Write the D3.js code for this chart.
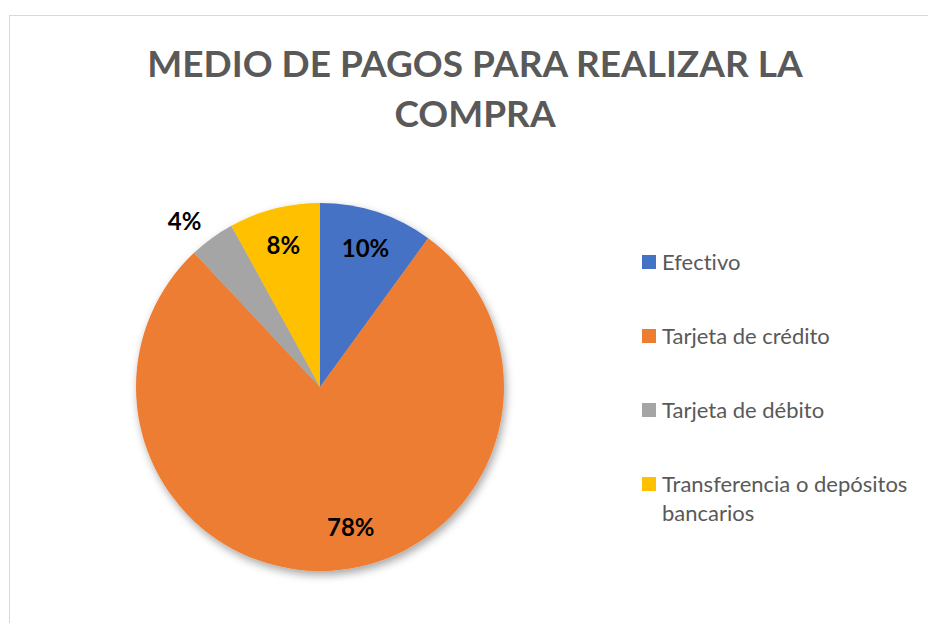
<!DOCTYPE html>
<html>
<head>
<meta charset="utf-8">
<script src="https://cdn.jsdelivr.net/npm/d3@7"></script>
<style>
  body { margin: 0; background: #fff; }
  svg { display: block; }
  text { font-variant-ligatures: none; font-feature-settings: "liga" 0; }
</style>
</head>
<body>
<div id="chart"></div>
<script>
// Data
const categories = ['Efectivo', 'Tarjeta de crédito', 'Tarjeta de débito', 'Transferencia o depósitos bancarios'];
const values = [10, 78, 4, 8];
const colors = ['#4472c4', '#ed7d31', '#a5a5a5', '#ffc000'];
const titleLines = ['MEDIO DE PAGOS PARA REALIZAR LA', 'COMPRA'];
const legendLines = [['Efectivo'], ['Tarjeta de crédito'], ['Tarjeta de débito'], ['Transferencia o depósitos', 'bancarios']];

const width = 928, height = 623;
const cx = 320, cy = 387, radius = 184;

const svg = d3.select('#chart').append('svg')
    .attr('width', width)
    .attr('height', height);

// drop shadow like the office chart
const defs = svg.append('defs');
const shadow = defs.append('filter')
    .attr('id', 'shadow')
    .attr('x', '-20%').attr('y', '-20%')
    .attr('width', '140%').attr('height', '140%');
shadow.append('feDropShadow')
    .attr('dx', 2).attr('dy', 4)
    .attr('stdDeviation', 4)
    .attr('flood-color', '#000')
    .attr('flood-opacity', 0.35);

// chart area border (runs off the right and bottom)
svg.append('rect')
    .attr('x', 9.5).attr('y', 15.5)
    .attr('width', 1000).attr('height', 800)
    .attr('fill', '#fff')
    .attr('stroke', '#d9d9d9')
    .attr('stroke-width', 1);

// title
svg.append('text')
    .attr('x', 475)
    .attr('font-family', 'Lato, sans-serif')
    .attr('font-weight', 'bold')
    .attr('font-size', 37)
    .attr('fill', '#595959')
    .attr('text-anchor', 'middle')
    .selectAll('tspan')
    .data(titleLines)
    .enter().append('tspan')
    .attr('x', 475)
    .attr('y', (d, i) => 77 + i * 50)
    .text(d => d);

// pie
const pie = d3.pie().sort(null).value(d => d);
const arcs = pie(values);
const arc = d3.arc().innerRadius(0).outerRadius(radius);

const g = svg.append('g')
    .attr('transform', `translate(${cx},${cy})`);

g.append('g')
    .attr('filter', 'url(#shadow)')
    .selectAll('path')
    .data(arcs)
    .enter().append('path')
    .attr('d', arc)
    .attr('fill', (d, i) => colors[i]);

// label radius factor per slice (small slice sits outside), and a nudge for the big one
const labelRadius = [0.8, 0.76, 1.16, 0.8];
const labelShift = [[0, 0], [22, 0], [-10, 6], [0, 0]];

g.selectAll('.label')
    .data(arcs)
    .enter().append('text')
    .attr('class', 'label')
    .attr('transform', (d, i) => {
        const a = (d.startAngle + d.endAngle) / 2;
        const r = radius * labelRadius[i];
        const x = r * Math.sin(a) + labelShift[i][0];
        const y = -r * Math.cos(a) + labelShift[i][1];
        return `translate(${x},${y})`;
    })
    .attr('text-anchor', 'middle')
    .attr('dominant-baseline', 'central')
    .attr('font-family', 'Lato, sans-serif')
    .attr('font-weight', 'bold')
    .attr('font-size', 24)
    .attr('fill', '#000')
    .text(d => Math.round(d.data) + '%');

// legend
const legend = svg.append('g')
    .attr('transform', 'translate(642,262)');

const item = legend.selectAll('.item')
    .data(categories)
    .enter().append('g')
    .attr('class', 'item')
    .attr('transform', (d, i) => `translate(0,${i * 74})`);

item.append('rect')
    .attr('x', 0).attr('y', -7)
    .attr('width', 14).attr('height', 14)
    .attr('fill', (d, i) => colors[i]);

item.append('text')
    .attr('font-family', 'Lato, sans-serif')
    .attr('font-size', 22)
    .attr('fill', '#595959')
    .selectAll('tspan')
    .data((d, i) => legendLines[i])
    .enter().append('tspan')
    .attr('x', 20)
    .attr('y', (d, j) => 8 + j * 29)
    .text(d => d);
</script>
</body>
</html>
